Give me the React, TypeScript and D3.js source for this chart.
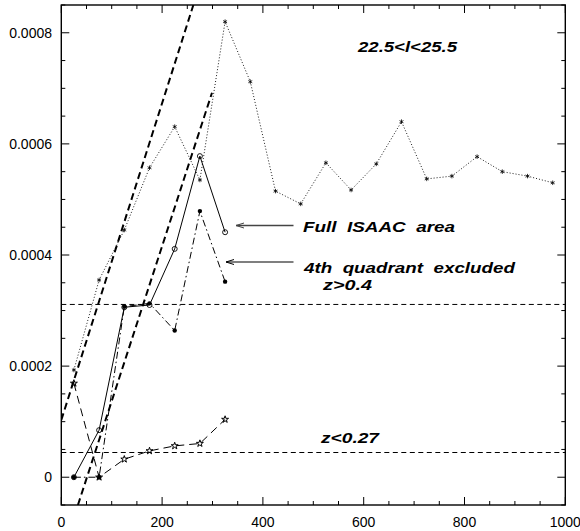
import React from "react";
import * as d3 from "d3";

const W = 580;
const H = 531;

// Dotted series with asterisks (z>0.4, extended)
const dotX = [25, 75, 125, 175, 225, 275, 325, 375, 425, 475, 525, 575, 625, 675, 725, 775, 825, 875, 925, 975];
const dotY = [0.000193, 0.000355, 0.000445, 0.000557, 0.000631, 0.000535, 0.00082, 0.000712, 0.000515, 0.000492, 0.000566, 0.000517, 0.000564, 0.00064, 0.000537, 0.000542, 0.000577, 0.00055, 0.000542, 0.00053];

// Full ISAAC area (solid, open circles)
const fullX = [25, 75, 125, 175, 225, 275, 325];
const fullY = [0, 0.0000847, 0.000306, 0.00031, 0.000411, 0.000578, 0.000441];

// 4th quadrant excluded (dash-dot, filled circles)
const quadX = [25, 75, 125, 175, 225, 275, 325];
const quadY = [0, 0, 0.000307, 0.000313, 0.000264, 0.000479, 0.000352];

// z<0.27 (long dash, stars)
const lowX = [25, 75, 125, 175, 225, 275, 325];
const lowY = [0.000169, 0, 0.0000324, 0.0000474, 0.0000564, 0.0000607, 0.000104];

// Reference straight lines (thick dashed)
const refLineA = [[0, 0.000103], [262, 0.00085]];
const refLineB = [[33, -0.00005], [299, 0.000692]];

// Horizontal reference levels
const hLevels = [0.000311, 0.0000445];

const xMajor = [0, 200, 400, 600, 800, 1000];
const yMajor = [0, 0.0002, 0.0004, 0.0006, 0.0008];
const yLabels = ["0", "0.0002", "0.0004", "0.0006", "0.0008"];

const L = 61.3, R = 565.3, T = 5, B = 505;

export default function App() {
  const x = d3.scaleLinear().domain([0, 1000]).range([L, R]);
  const y = d3.scaleLinear().domain([-0.00005, 0.00085]).range([B, T]);
  const line = d3.line<[number, number]>().x(d => x(d[0])).y(d => y(d[1]));

  const xMinor = d3.range(0, 1001, 50);
  const yMinor = d3.range(-0.00005, 0.000851, 0.00005);

  const zip = (xs: number[], ys: number[]) => xs.map((v, i) => [v, ys[i]] as [number, number]);

  const asterisk = d3.symbol(d3.symbolAsterisk, 14)()!;
  const star = d3.symbol(d3.symbolStar, 15)()!;

  const font = "'Liberation Sans', Arial, Helvetica, sans-serif";
  const labelStyle = { fontFamily: font, fontSize: 15, fontWeight: "bold", fontStyle: "italic", whiteSpace: "pre" } as React.CSSProperties;

  return (
    <svg width={W} height={H} style={{ position: "absolute", left: 0, top: 0, background: "#fff" }}>
      <defs>
        <clipPath id="plot">
          <rect x={L} y={T} width={R - L} height={B - T} />
        </clipPath>
      </defs>
      <rect x={0} y={0} width={W} height={H} fill="#fff" />

      <g clipPath="url(#plot)">
        {/* thick dashed reference lines */}
        <path d={line(refLineA as [number, number][])!} fill="none" stroke="#000" strokeWidth={2} strokeDasharray="7,4" />
        <path d={line(refLineB as [number, number][])!} fill="none" stroke="#000" strokeWidth={2} strokeDasharray="7,4" />
        {/* horizontal thin dashed */}
        {hLevels.map((v, i) => (
          <line key={i} x1={L} x2={R} y1={y(v)} y2={y(v)} stroke="#000" strokeWidth={1} strokeDasharray="5,3.5" />
        ))}

        {/* dotted asterisk series */}
        <path d={line(zip(dotX, dotY))!} fill="none" stroke="#000" strokeWidth={0.9} strokeDasharray="1,2" />
        {dotX.map((v, i) => (
          <path key={"a" + i} d={asterisk} transform={`translate(${x(v)},${y(dotY[i])})`} fill="none" stroke="#000" strokeWidth={0.8} />
        ))}

        {/* z<0.27 series */}
        <path d={line(zip(lowX, lowY))!} fill="none" stroke="#000" strokeWidth={1} strokeDasharray="8,5" />
        {lowX.map((v, i) => (
          <path key={"s" + i} d={star} transform={`translate(${x(v)},${y(lowY[i])})`} fill="none" stroke="#000" strokeWidth={1} />
        ))}

        {/* 4th quadrant excluded */}
        <path d={line(zip(quadX, quadY))!} fill="none" stroke="#000" strokeWidth={1} strokeDasharray="7,3,1.5,3" />
        {quadX.map((v, i) => (
          <circle key={"q" + i} cx={x(v)} cy={y(quadY[i])} r={2.2} fill="#000" />
        ))}

        {/* full ISAAC */}
        <path d={line(zip(fullX, fullY))!} fill="none" stroke="#000" strokeWidth={1} />
        {fullX.map((v, i) => (
          <circle key={"f" + i} cx={x(v)} cy={y(fullY[i])} r={2.5} fill="none" stroke="#000" strokeWidth={0.9} />
        ))}
      </g>

      {/* arrows */}
      <g stroke="#000" fill="none">
        <line x1={293.5} x2={236} y1={225.5} y2={225.5} strokeWidth={1.3} stroke="#444" />
        <path d="M244,223 L236,225.5 L244,228" strokeWidth={1} stroke="#444" />
        <line x1={293.5} x2={226} y1={262} y2={262} strokeWidth={1.1} />
        <path d="M234,259.5 L226,262 L234,264.5" strokeWidth={1} />
      </g>

      {/* annotations */}
      <text x={303} y={232} textLength={152} lengthAdjust="spacingAndGlyphs" style={labelStyle}>{"Full  ISAAC  area"}</text>
      <text x={304} y={272.5} textLength={211} lengthAdjust="spacingAndGlyphs" style={labelStyle}>{"4th  quadrant  excluded"}</text>
      <text x={323} y={289.5} textLength={49} lengthAdjust="spacingAndGlyphs" style={labelStyle}>z&gt;0.4</text>
      <text x={321} y={443} textLength={58} lengthAdjust="spacingAndGlyphs" style={labelStyle}>z&lt;0.27</text>
      <text x={358} y={52} textLength={99} lengthAdjust="spacingAndGlyphs" style={labelStyle}>22.5&lt;l&lt;25.5</text>

      {/* ticks */}
      <g stroke="#000" strokeWidth={1}>
        {xMinor.map(v => {
          const major = v % 200 === 0;
          const len = major ? 8 : 4;
          return (
            <g key={"xt" + v}>
              <line x1={x(v)} x2={x(v)} y1={B} y2={B - len} />
              <line x1={x(v)} x2={x(v)} y1={T} y2={T + len} />
            </g>
          );
        })}
        {yMinor.map((v, i) => {
          const major = Math.abs(Math.round(v / 0.0002) * 0.0002 - v) < 1e-9;
          const len = major ? 8 : 4;
          return (
            <g key={"yt" + i}>
              <line x1={L} x2={L + len} y1={y(v)} y2={y(v)} />
              <line x1={R} x2={R - len} y1={y(v)} y2={y(v)} />
            </g>
          );
        })}
      </g>

      {/* frame */}
      <rect x={L} y={T} width={R - L} height={B - T} fill="none" stroke="#000" strokeWidth={1.4} />

      {/* tick labels */}
      {xMajor.map(v => (
        <text key={"xl" + v} x={x(v)} y={527} textAnchor="middle" style={{ fontFamily: font, fontSize: 14 }}>{v}</text>
      ))}
      {yMajor.map((v, i) => (
        <text key={"yl" + v} x={52} y={y(v) + 5} textAnchor="end" style={{ fontFamily: font, fontSize: 14 }}>{yLabels[i]}</text>
      ))}
    </svg>
  );
}
